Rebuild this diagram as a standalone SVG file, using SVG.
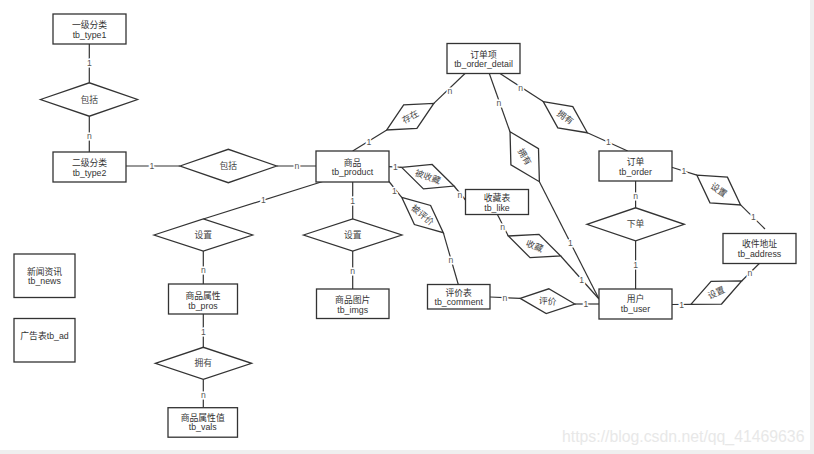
<svg xmlns="http://www.w3.org/2000/svg" width="814" height="454" viewBox="0 0 814 454">
<style>
.box{fill:#fff;stroke:#333;stroke-width:1.3}
.dia{fill:#fff;stroke:#333;stroke-width:1.3}
.ln{fill:none;stroke:#333;stroke-width:1.2}
text{font-family:"Liberation Sans","Noto Sans CJK SC",sans-serif;font-size:8.8px;fill:#333;text-anchor:middle}
.dt{fill:#444}
.lb{fill:#555;stroke:#fff;stroke-width:3;paint-order:stroke;font-size:8.6px}
.wm{fill:#e8e8e8;font-size:15.8px;text-anchor:start}
</style>
<rect width="814" height="454" fill="#fff"/>
<rect x="810" y="0" width="4" height="454" fill="#efefef"/>
<rect x="0" y="450" width="814" height="4" fill="#efefef"/>

<g id="connectors">
<path class="ln" d="M89.3,44 V82.8"/>
<path class="ln" d="M89.3,116.2 V152"/>
<path class="ln" d="M126,166 H180"/>
<path class="ln" d="M276.6,166 H316"/>
<path class="ln" d="M352.7,151 L386.8,130"/>
<path class="ln" d="M433.8,103.4 L465,73.5"/>
<path class="ln" d="M500,73.5 L543.2,101.6"/>
<path class="ln" d="M587.4,132.8 L627.7,151"/>
<path class="ln" d="M489.3,73.5 L510,131.7"/>
<path class="ln" d="M539.4,181.7 L599,299"/>
<path class="ln" d="M388.7,166.7 L401.6,167.4"/>
<path class="ln" d="M454,186 L465.5,200"/>
<path class="ln" d="M389,181.5 L401.7,197.3"/>
<path class="ln" d="M443.3,232.7 L458.3,284.5"/>
<path class="ln" d="M497.3,214.3 L508.3,236"/>
<path class="ln" d="M560.7,256 L599,299"/>
<path class="ln" d="M490,297 L520.1,298.4"/>
<path class="ln" d="M574.9,304 L599,304"/>
<path class="ln" d="M635.6,181 V207.8"/>
<path class="ln" d="M635.6,240.8 V289"/>
<path class="ln" d="M671.7,167.3 L696.8,175.1"/>
<path class="ln" d="M740.6,204.9 L765,229"/>
<path class="ln" d="M671.7,304.5 L690.9,304.4"/>
<path class="ln" d="M741.7,281 L759.3,263.5"/>
<path class="ln" d="M322.7,181.5 L203.3,219"/>
<path class="ln" d="M203.3,251 V284"/>
<path class="ln" d="M203.3,314 V347.3"/>
<path class="ln" d="M203.3,379.3 V407.7"/>
<path class="ln" d="M352.7,181.5 V219"/>
<path class="ln" d="M352.7,251 V289"/>
<text class="lb" x="89.3" y="66">1</text>
<text class="lb" x="89.3" y="139">n</text>
<text class="lb" x="152" y="169">1</text>
<text class="lb" x="297" y="169">n</text>
<text class="lb" x="369" y="144.7">1</text>
<text class="lb" x="450" y="93.7">n</text>
<text class="lb" x="520.7" y="91.3">n</text>
<text class="lb" x="608.3" y="145.3">1</text>
<text class="lb" x="499" y="106.3">n</text>
<text class="lb" x="570.4" y="246.3">1</text>
<text class="lb" x="395.5" y="170">1</text>
<text class="lb" x="460" y="197.5">n</text>
<text class="lb" x="394.5" y="193.5">1</text>
<text class="lb" x="451" y="263">n</text>
<text class="lb" x="502.7" y="229.7">n</text>
<text class="lb" x="581.6" y="283">1</text>
<text class="lb" x="505" y="300.6">n</text>
<text class="lb" x="586" y="307">1</text>
<text class="lb" x="635.6" y="199">n</text>
<text class="lb" x="635.6" y="268">1</text>
<text class="lb" x="684" y="173.7">1</text>
<text class="lb" x="753.3" y="220.3">1</text>
<text class="lb" x="681.7" y="307.5">1</text>
<text class="lb" x="750" y="276">n</text>
<text class="lb" x="263.3" y="203.2">1</text>
<text class="lb" x="203.3" y="273">n</text>
<text class="lb" x="203.3" y="334.7">1</text>
<text class="lb" x="203.3" y="398">n</text>
<text class="lb" x="352.7" y="203.7">1</text>
<text class="lb" x="352.7" y="273.7">n</text>
</g>

<g id="tb_type1"><rect class="box" x="53" y="14" width="73" height="30"/><text x="89.5" y="28.3">一级分类</text><text x="89.5" y="37.5">tb_type1</text></g>
<g id="tb_type2"><rect class="box" x="53" y="152" width="73" height="30"/><text x="89.5" y="166.2">二级分类</text><text x="89.5" y="175.5">tb_type2</text></g>
<g id="tb_product"><rect class="box" x="316" y="151" width="73" height="31"/><text x="352.5" y="165.6">商品</text><text x="352.5" y="175">tb_product</text></g>
<g id="tb_order_detail"><rect class="box" x="447" y="43.5" width="73" height="30"/><text x="483.5" y="57.8">订单项</text><text x="483.5" y="67.2">tb_order_detail</text></g>
<g id="tb_like"><rect class="box" x="465.5" y="189.5" width="63" height="25"/><text x="497" y="201.1">收藏表</text><text x="497" y="210.8">tb_like</text></g>
<g id="tb_order"><rect class="box" x="599" y="151" width="73" height="30"/><text x="635.5" y="164.5">订单</text><text x="635.5" y="174.5">tb_order</text></g>
<g id="tb_address"><rect class="box" x="723" y="233.5" width="73" height="30"/><text x="759.5" y="247.1">收件地址</text><text x="759.5" y="256.8">tb_address</text></g>
<g id="tb_user"><rect class="box" x="599" y="289" width="73" height="30"/><text x="635.5" y="302.2">用户</text><text x="635.5" y="312.3">tb_user</text></g>
<g id="tb_comment"><rect class="box" x="427.5" y="284.5" width="62.5" height="24.5"/><text x="458.7" y="295.5">评价表</text><text x="458.7" y="305.2">tb_comment</text></g>
<g id="tb_imgs"><rect class="box" x="316.5" y="289" width="72.5" height="29.5"/><text x="352.7" y="302.8">商品图片</text><text x="352.7" y="312.5">tb_imgs</text></g>
<g id="tb_pros"><rect class="box" x="168.5" y="284" width="69" height="30"/><text x="203" y="299.3">商品属性</text><text x="203" y="308.6">tb_pros</text></g>
<g id="tb_vals"><rect class="box" x="168" y="407.7" width="69.5" height="29.5"/><text x="202.7" y="421">商品属性值</text><text x="202.7" y="430">tb_vals</text></g>
<g id="tb_news"><rect class="box" x="14" y="254" width="61" height="43.5"/><text x="44.5" y="274.5">新闻资讯</text><text x="44.5" y="284.3">tb_news</text></g>
<g id="tb_ad"><rect class="box" x="14" y="318.5" width="61" height="43.5"/><text x="44.5" y="338.8">广告表tb_ad</text></g>

<g id="d_baokuo1"><polygon class="dia" points="40.5,99.5 89.3,82.8 137.5,99.5 89.3,116.2"/><text class="dt" x="89.3" y="102.6">包括</text></g>
<g id="d_baokuo2"><polygon class="dia" points="180,166 228.3,149.3 276.6,166 228.3,182.7"/><text class="dt" x="228.3" y="169.1">包括</text></g>
<g id="d_shezhi_pros"><polygon class="dia" points="154,235 203.3,219 252.6,235 203.3,251"/><text class="dt" x="203.3" y="238.1">设置</text></g>
<g id="d_yongyou_vals"><polygon class="dia" points="155.3,363.3 203.3,347.3 251.6,363.3 203.3,379.3"/><text class="dt" x="203.3" y="366.4">拥有</text></g>
<g id="d_shezhi_imgs"><polygon class="dia" points="303.5,235 352.7,219 401.9,235 352.7,251"/><text class="dt" x="352.7" y="238.1">设置</text></g>
<g id="d_xiadan"><polygon class="dia" points="586.9,224.3 635.6,207.8 684.3,224.3 635.6,240.8"/><text class="dt" x="635.6" y="227.4">下单</text></g>

<g id="d_cunzai" transform="translate(410.3,116.7) rotate(-29.4)"><polygon class="dia" points="-27,0 0,-13.5 27,0 0,13.5"/><text class="dt" x="0" y="3.1">存在</text></g>
<g id="d_yongyou_order" transform="translate(565.3,117.2) rotate(35.2)"><polygon class="dia" points="-27,0 0,-13 27,0 0,13"/><text class="dt" x="0" y="3.1">拥有</text></g>
<g id="d_yongyou_user" transform="translate(524.7,156.7) rotate(59.6)"><polygon class="dia" points="-29,0 0,-16 29,0 0,16"/><text class="dt" x="0" y="3.1">拥有</text></g>
<g id="d_beishoucang" transform="translate(427.8,176.7) rotate(19.6)"><polygon class="dia" points="-27.8,0 0,-13 27.8,0 0,13"/><text class="dt" x="0" y="3.1">被收藏</text></g>
<g id="d_beipingjia" transform="translate(422.5,215) rotate(40.4)"><polygon class="dia" points="-27.3,0 0,-12.5 27.3,0 0,12.5"/><text class="dt" x="0" y="3.1">被评价</text></g>
<g id="d_shoucang" transform="translate(534.5,246) rotate(20.9)"><polygon class="dia" points="-28,0 0,-12.5 28,0 0,12.5"/><text class="dt" x="0" y="3.1">收藏</text></g>
<g id="d_pingjia" transform="translate(547.5,301.2) rotate(5.9)"><polygon class="dia" points="-27.5,0 0,-12.5 27.5,0 0,12.5"/><text class="dt" x="0" y="3.1">评价</text></g>
<g id="d_shezhi_order" transform="translate(718.7,190) rotate(34.3)"><polygon class="dia" points="-26.5,0 0,-15.5 26.5,0 0,15.5"/><text class="dt" x="0" y="3.1">设置</text></g>
<g id="d_shezhi_user" transform="translate(716.3,292.7) rotate(-24.8)"><polygon class="dia" points="-28,0 0,-12.5 28,0 0,12.5"/><text class="dt" x="0" y="3.1">设置</text></g>

<text class="wm" x="562" y="442">https://blog.csdn.net/qq_41469636</text>
</svg>
